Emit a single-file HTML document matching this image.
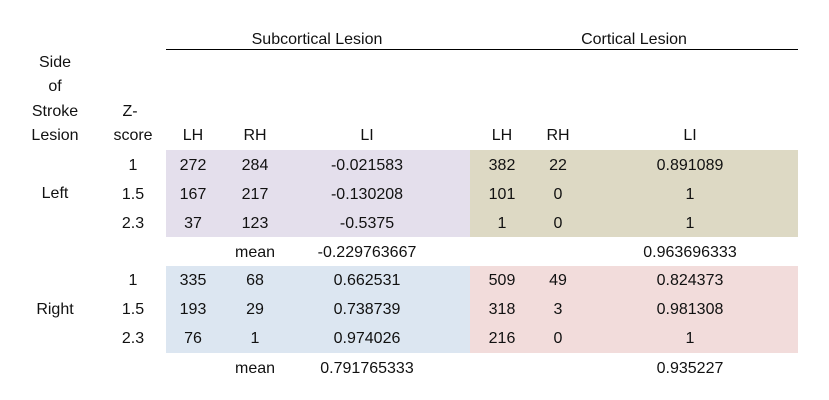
<!DOCTYPE html>
<html><head><meta charset="utf-8"><style>
body{margin:0;width:829px;height:400px;background:#fff;position:relative;overflow:hidden;font-family:"Liberation Sans",sans-serif;font-size:16px;color:#111}
.t{position:absolute;transform:translate(-50%,-50%);white-space:nowrap}
.b{position:absolute}
</style></head><body>
<div class="b" style="left:166px;top:49px;width:632px;height:1px;background:#000"></div>
<div class="b" style="left:166px;top:150px;width:304px;height:87px;background:#e4dfec"></div>
<div class="b" style="left:470px;top:150px;width:328px;height:87px;background:#ddd9c4"></div>
<div class="b" style="left:166px;top:266px;width:304px;height:87px;background:#dce6f1"></div>
<div class="b" style="left:470px;top:266px;width:328px;height:87px;background:#f2dcdb"></div>
<div id="c"></div>
<script>
const c=document.getElementById('c');
function t(x,y,s,n){const d=document.createElement('div');d.className='t';d.style.left=x+'px';d.style.top=y+'px';d.textContent=s;


document.body.appendChild(d);}
t(317,40,'Subcortical Lesion','subcortical-title');
t(634,40,'Cortical Lesion','cortical-title');
t(55,63,'Side','side-header');t(55,87,'of','side-header');t(55,112,'Stroke','side-header');t(55,136,'Lesion','side-header');
t(130,112,'Z-','z-header');t(133,136,'score','z-header');
t(193,136,'LH','lh-header');t(255,136,'RH','rh-header');t(367,136,'LI','li-header');
t(502,136,'LH','lh-header');t(558,136,'RH','rh-header');t(690,136,'LI','li-header');
t(55,194,'Left','side-left');t(55,310,'Right','side-right');
const ys=[166,195,224,281,310,339];
const z=['1','1.5','2.3','1','1.5','2.3'];
const sLH=['272','167','37','335','193','76'],sRH=['284','217','123','68','29','1'],sLI=['-0.021583','-0.130208','-0.5375','0.662531','0.738739','0.974026'];
const cLH=['382','101','1','509','318','216'],cRH=['22','0','0','49','3','0'],cLI=['0.891089','1','1','0.824373','0.981308','1'];
ys.forEach((y,i)=>{t(133,y,z[i],'z-score');t(193,y,sLH[i],'sub-lh');t(255,y,sRH[i],'sub-rh');t(367,y,sLI[i],'sub-li');
t(502,y,cLH[i],'cort-lh');t(558,y,cRH[i],'cort-rh');t(690,y,cLI[i],'cort-li');});
t(255,253,'mean','mean-label');t(367,253,'-0.229763667','sub-mean-left');t(690,253,'0.963696333','cort-mean-left');
t(255,369,'mean','mean-label');t(367,369,'0.791765333','sub-mean-right');t(690,369,'0.935227','cort-mean-right');
</script>
</body></html>
